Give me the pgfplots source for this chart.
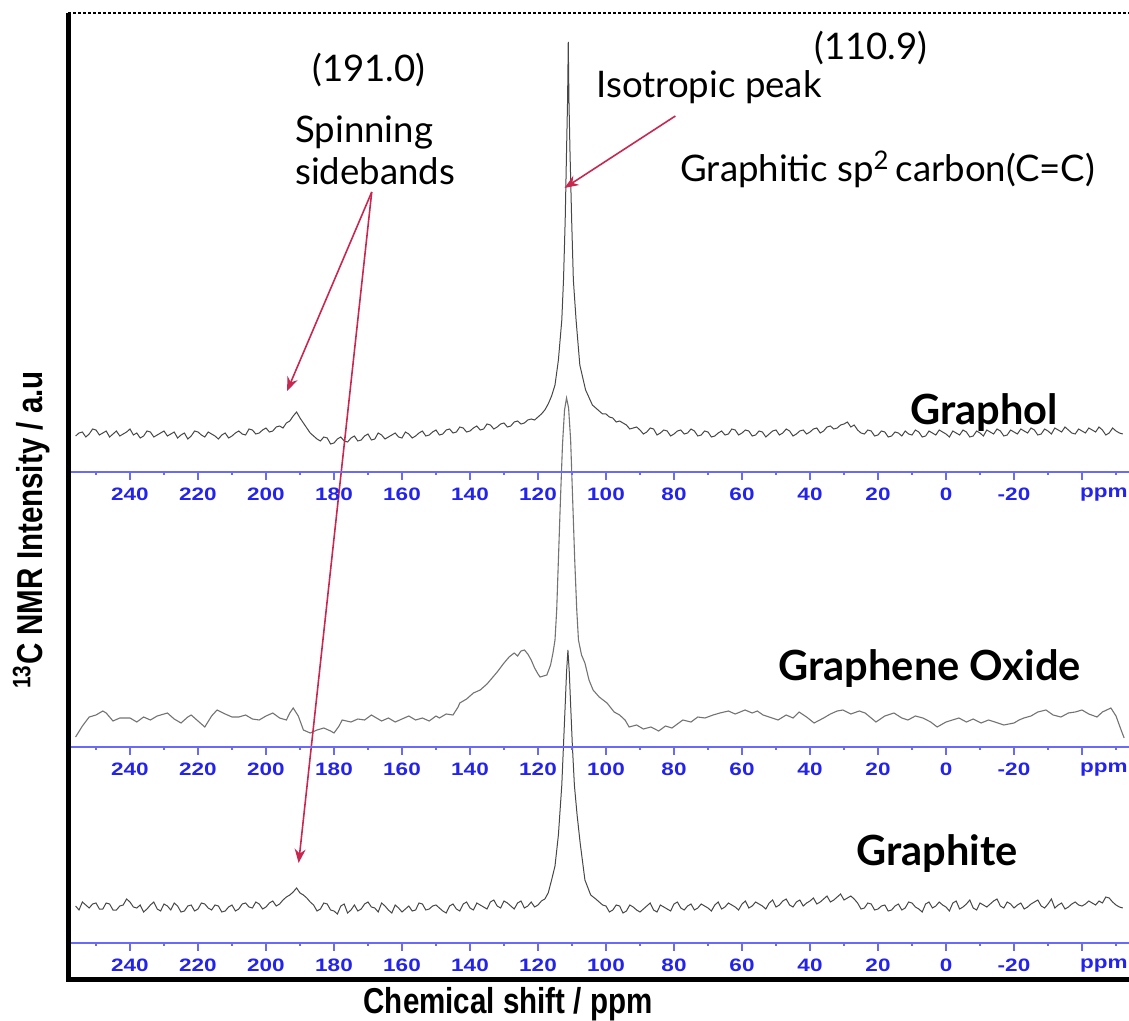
\documentclass[border=0pt]{standalone}
\usepackage{graphicx}
\usepackage{fontspec}
\usepackage{pgfplots}
\pgfplotsset{compat=1.18}
\usetikzlibrary{arrows.meta}
\setmainfont{Lato}
\newfontfamily\lato{Lato}
\newfontfamily\arial{Liberation Sans}
\definecolor{tickblue}{RGB}{35,35,235}
\definecolor{lineblue}{RGB}{105,105,250}
\definecolor{arrowred}{RGB}{200,40,80}
\newcommand{\tl}[1]{\scalebox{1.25}[1]{#1}}
\pgfplotsset{
  blueaxis/.style={
    anchor=south west, scale only axis, width=530.35pt, height=10pt,
    xmin=-53.82, xmax=258.15, x dir=reverse, ymin=0, ymax=1,
    axis x line=bottom, axis y line=none,
    axis line style={draw=lineblue, line width=1.1pt, -},
    xtick={240,220,200,180,160,140,120,100,80,60,40,20,0,-20,-40},
    xticklabels={\tl{240},\tl{220},\tl{200},\tl{180},\tl{160},\tl{140},\tl{120},\tl{100},\tl{80},\tl{60},\tl{40},\tl{20},\tl{0},\tl{-20},\rlap{\kern-1pt\tl{ppm}}},
    minor xtick={250,230,210,190,170,150,130,110,90,70,50,30,10,-10,-30,-50},
    tick align=outside, major tick length=4pt, minor tick length=1.5pt,
    every tick/.style={draw=lineblue, line width=1pt},
    xticklabel style={font=\arial\bfseries\fontsize{9}{10}\selectfont, text=tickblue, yshift=-0.5pt},
    clip=false,
  }
}
\begin{document}
\begin{tikzpicture}
\begin{axis}[
  at={(0,0)}, anchor=south west, scale only axis,
  width=530.35pt, height=483.25pt,
  xmin=-53.82, xmax=258.15, x dir=reverse,
  ymin=13, ymax=979.5, y dir=reverse,
  hide axis, clip=false,
]
% Graphol
\addplot[black!72, line width=0.5pt] coordinates {
(256,436) (255,433) (254,432) (253,437) (252,434) (251,429) (250,430) (249,435) (248,433) (247,431)
(246,437) (245,434) (244,431) (243,436) (242,434) (241,432) (240,429) (239,435) (238,433) (237,438)
(236,436) (235,431) (234,432) (233,437) (232,435) (231,433) (230,431) (229,436) (228,434) (227,432)
(226,438) (225,435) (224,433) (223,439) (222,436) (221,431) (220,432) (219,435) (218,437) (217,432)
(216,434) (215,436) (214,439) (213,435) (212,433) (211,438) (210,436) (209,433) (208,431) (207,434)
(206,435) (205,429) (204,430) (203,434) (202,433) (201,430) (200,428) (199,432) (198,431) (197,427)
(196,426) (195,428) (194,423) (193,421) (192,416) (191,412) (190,418) (189,423) (188,428) (187,433)
(186,436) (185,439) (184,441) (183,437) (182,438) (181,444) (180,443) (179,439) (178,437) (177,441)
(176,442) (175,438) (174,436) (173,441) (172,440) (171,436) (170,434) (169,440) (168,439) (167,433)
(166,435) (165,439) (164,437) (163,435) (162,433) (161,437) (160,438) (159,432) (158,434) (157,438)
(156,436) (155,433) (154,431) (153,436) (152,435) (151,432) (150,430) (149,435) (148,434) (147,430)
(146,429) (145,433) (144,432) (143,427) (142,428) (141,432) (140,431) (139,428) (138,426) (137,430)
(136,429) (135,424) (134,425) (133,429) (132,427) (131,424) (130,423) (129,427) (128,426) (127,422)
(126,421) (125,424) (124,423) (123,420) (122,419) (121,420) (120,417)
(119,414) (118,410) (117,404) (116,396) (115,385) (114,360) (113,320) (112.5,280) (112,220) (111.6,150)
(111.3,100) (111.1,42) (110.9,100) (110.6,150) (110.1,220) (109.6,280) (108.8,320) (107.7,365) (106,390) (104,405)
(102,411) (101,414) (100,414) (99,417) (98,418) (97,422) (96,421) (95,423) (94,425) (93,429)
(92,428) (91,427) (90,430) (89,434) (88,432) (87,428) (86,429) (85,435) (84,433) (83,430)
(82,431) (81,436) (80,434) (79,431) (78,430) (77,434) (76,433) (75,429) (74,431) (73,436)
(72,435) (71,431) (70,432) (69,437) (68,436) (67,433) (66,431) (65,435) (64,434) (63,429)
(62,430) (61,435) (60,433) (59,430) (58,431) (57,436) (56,435) (55,431) (54,432) (53,437)
(52,434) (51,431) (50,430) (49,435) (48,433) (47,429) (46,431) (45,436) (44,434) (43,431)
(42,430) (41,434) (40,432) (39,429) (38,428) (37,433) (36,431) (35,427) (34,426) (33,429)
(32,428) (31,425) (30,424) (29,422) (28,427) (27,425) (26,430) (25,433) (24,434) (23,430)
(22,431) (21,436) (20,435) (19,431) (18,432) (17,437) (16,436) (15,432) (14,433) (13,436)
(12,431) (11,434) (10,435) (9,430) (8,432) (7,437) (6,436) (5,431) (4,433) (3,435)
(2,430) (1,432) (0,434) (-1,437) (-2,431) (-3,433) (-4,435) (-5,430) (-6,432) (-7,437)
(-8,436) (-9,431) (-10,433) (-11,436) (-12,430) (-13,432) (-14,434) (-15,429) (-16,431) (-17,436)
(-18,435) (-19,430) (-20,432) (-21,434) (-22,429) (-23,431) (-24,433) (-25,428) (-26,430) (-27,435)
(-28,434) (-29,429) (-30,431) (-31,434) (-32,428) (-33,430) (-34,432) (-35,427) (-36,430) (-37,433)
(-38,434) (-39,429) (-40,431) (-41,433) (-42,428) (-43,430) (-44,432) (-45,427) (-46,430) (-47,435)
(-48,433) (-49,428) (-50,431) (-51,433) (-52,434)
};
% Graphene oxide
\addplot[black!55, line width=0.55pt] coordinates {
(256,737) (254,726) (252,717) (250,715) (248,711) (247,713) (245,721) (243,718) (240,718) (238,722)
(236,717) (234,720) (232,716) (230,714) (229,713) (227,719) (225,723) (223,717) (222,715) (220,721)
(218,727) (216,716) (214.4,710) (212,714) (210,717) (208,717) (206,715) (204,719) (202,720) (200,716)
(198,713) (196,718) (194,720) (193,713) (192,708) (190.5,716) (189,730) (187,733) (185,730) (183,728)
(181,731) (180,733) (178.5,726) (177.6,720) (175,722) (173,719) (171,720) (169,715) (168,717) (166,721)
(164,718) (162,722) (160,719) (158,716) (156,720) (154,718) (152,721) (150,716) (149,718) (147,714)
(145,715) (143.5,707) (143,703) (141,699) (139,693) (137,690) (135,684) (134,680) (132,672) (130,663)
(128.5,657) (127,653) (126,656) (125,651) (124,650) (123,654) (122,660) (121,668) (120,674) (119.4,677)
(118.4,676) (117.4,675) (116.3,665) (115.6,653) (115,640) (114.5,610) (114,560) (113.4,500) (112.8,445) (112.2,410)
(111.6,398) (111,408) (110.4,440) (109.8,500) (109.2,560) (108.6,610) (108.1,640) (107.2,655) (106.2,663) (105,680)
(103.8,690) (102,697) (99.7,703) (97.6,712) (96,715) (94.4,720) (93.2,727) (91,725) (89,729) (86.8,727)
(84.5,731) (82.5,726) (80.6,728) (79,724) (77.4,720) (75,722) (73,717) (70.9,718) (68.5,715) (66.5,713)
(64,711) (62,714) (59.1,710) (57,713) (55.5,711) (53.8,715) (52,717) (49.4,720) (47,715) (45,718)
(43.2,712) (41,717) (38.8,723) (36,718) (34,714) (32,711) (30.3,710) (28,714) (25.5,711) (23.8,713)
(22,718) (20.6,722) (18,716) (15.3,713) (13,718) (11.2,720) (9,716) (6.8,718) (4.5,722) (2.6,727)
(0,722) (-3.8,718) (-6,722) (-8,719) (-10.3,723) (-12.5,720) (-14.4,722) (-17,725) (-20,723) (-21.5,720)
(-22.9,718) (-25,716) (-27,712) (-29.4,710) (-31.5,715) (-33.8,717) (-36,713) (-38,712) (-40,710) (-42,714)
(-44.4,717) (-46,712) (-48.5,708) (-50,716) (-51.5,730) (-52.4,738)
};
% Graphite
\addplot[black!72, line width=0.5pt] coordinates {
(256,906) (255,910) (254,902) (253,905) (252,908) (251,904) (250,903) (249,909) (248,909) (247,903)
(246,904) (245,910) (244,910) (243,906) (242,905) (241,899) (240,902) (239,907) (238,908) (237,905)
(236,912) (235,909) (234,905) (233,902) (232,909) (231,911) (230,904) (229,906) (228,910) (227,903)
(226,906) (225,912) (224,911) (223,906) (222,905) (221,911) (220,909) (219,903) (218,904) (217,908)
(216,910) (215,905) (214,906) (213,912) (212,911) (211,907) (210,905) (209,911) (208,909) (207,904)
(206,903) (205,907) (204,908) (203,902) (202,904) (201,909) (200,907) (199,903) (198,901) (197,906)
(196,904) (195,900) (194,897) (193,895) (192,892) (191,888) (190,893) (189,895) (188,898) (187,902)
(186,905) (185,911) (184,909) (183,903) (182,904) (181,910) (180,911) (179,914) (178,906) (177,904)
(176,913) (175,910) (174,905) (173,911) (172,909) (171,904) (170,902) (169,907) (168,908) (167,912)
(166,903) (165,906) (164,910) (163,913) (162,905) (161,908) (160,912) (159,909) (158,906) (157,911)
(156,910) (155,903) (154,904) (153,910) (152,909) (151,906) (150,905) (149,908) (148,911) (147,913)
(146,906) (145,904) (144,909) (143,911) (142,904) (141,902) (140,908) (139,910) (138,903) (137,905)
(136,907) (135,909) (134,902) (133,900) (132,906) (131,908) (130,901) (129,903) (128,906) (127,909)
(126,903) (125,901) (124,908) (123,906) (122,902) (121,907) (120,905) (119,901) (118,899)
(117,893) (116,880) (115,866) (114,835) (113,785) (112.5,745) (112,705) (111.6,672) (111.2,650)
(110.8,672) (110.4,705) (109.9,745) (109.3,785) (108.5,815) (107.6,843) (106.2,880) (104.5,895) (103,899)
(102,902) (101,905) (100,906) (99,912) (98,910) (97,905) (96,906) (95,913) (94,911) (93,905)
(92,907) (91,910) (90,912) (89,909) (88,906) (87,903) (86,910) (85,912) (84,905) (83,907)
(82,909) (81,911) (80,904) (79,902) (78,908) (77,910) (76,906) (75,904) (74,910) (73,908)
(72,904) (71,906) (70,908) (69,911) (68,905) (67,902) (66,909) (65,907) (64,903) (63,905)
(62,907) (61,910) (60,904) (59,901) (58,908) (57,906) (56,902) (55,904) (54,906) (53,909)
(52,903) (51,900) (50,907) (49,905) (48,901) (47,899) (46,905) (45,907) (44,902) (43,900)
(42,906) (41,903) (40,901) (39,898) (38,904) (37,902) (36,899) (35,896) (34,902) (33,900)
(32,897) (31,894) (30,900) (29,898) (28,896) (27,899) (26,903) (25,909) (24,908) (23,903)
(22,904) (21,910) (20,909) (19,906) (18,905) (17,911) (16,910) (15,906) (14,904) (13,910)
(12,908) (11,902) (10,903) (9,907) (8,909) (7,912) (6,904) (5,902) (4,908) (3,906)
(2,902) (1,905) (0,907) (-1,911) (-2,903) (-3,901) (-4,909) (-5,907) (-6,904) (-7,900)
(-8,908) (-9,910) (-10,903) (-11,905) (-12,907) (-13,904) (-14,901) (-15,899) (-16,906) (-17,908)
(-18,902) (-19,904) (-20,908) (-21,905) (-22,903) (-23,909) (-24,907) (-25,904) (-26,902) (-27,900)
(-28,906) (-29,908) (-30,904) (-31,899) (-32,908) (-33,905) (-34,903) (-35,909) (-36,907) (-37,904)
(-38,902) (-39,905) (-40,906) (-41,904) (-42,901) (-43,903) (-44,905) (-45,901) (-46,903) (-47,897)
(-48,898) (-49,902) (-50,905) (-51,907) (-52,908)
};
% annotations
\node[anchor=base west, inner sep=0pt, font=\lato\fontsize{18.3}{21}\selectfont] at (axis cs:186.5,82) {(191.0)};
\node[anchor=base west, inner sep=0pt, font=\lato\fontsize{18.3}{21}\selectfont] at (axis cs:191.5,143) {Spinning};
\node[anchor=base west, inner sep=0pt, font=\lato\fontsize{18.3}{21}\selectfont] at (axis cs:191.5,185) {sidebands};
\node[anchor=base west, inner sep=0pt, font=\lato\fontsize{18.3}{21}\selectfont] at (axis cs:38.8,60) {(110.9)};
\node[anchor=base west, inner sep=0pt, font=\lato\fontsize{18.3}{21}\selectfont] at (axis cs:102.9,98) {Isotropic peak};
\node[anchor=base west, inner sep=0pt, font=\lato\fontsize{18.3}{21}\selectfont] at (axis cs:78.2,182) {Graphitic sp\textsuperscript{2}\,carbon(C=C)};
\node[anchor=base west, inner sep=0pt, font=\lato\bfseries\fontsize{20.8}{24}\selectfont] at (axis cs:10.6,425) {Graphol};
\node[anchor=base west, inner sep=0pt, font=\lato\bfseries\fontsize{20.8}{24}\selectfont] at (axis cs:49.4,680) {Graphene Oxide};
\node[anchor=base west, inner sep=0pt, font=\lato\bfseries\fontsize{20.8}{24}\selectfont] at (axis cs:26.5,865) {Graphite};
% arrows
\draw[arrowred, line width=0.8pt, -{Stealth[length=7pt,width=5.5pt]}] (axis cs:168.9,192) -- (axis cs:193.8,391);
\draw[arrowred, line width=0.8pt, -{Stealth[length=7pt,width=5.5pt]}] (axis cs:168.9,192) -- (axis cs:190.4,863);
\draw[arrowred, line width=0.8pt, -{Stealth[length=7pt,width=5.5pt]}] (axis cs:79.6,116) -- (axis cs:112.2,188);
\end{axis}
% blue ppm axes
\begin{axis}[blueaxis, at={(0,253.9pt)}]
\addplot[draw=none] coordinates {(0,0.5)};
\end{axis}
\begin{axis}[blueaxis, at={(0,116.4pt)}]
\addplot[draw=none] coordinates {(0,0.5)};
\end{axis}
\begin{axis}[blueaxis, at={(0,18.25pt)}]
\addplot[draw=none] coordinates {(0,0.5)};
\end{axis}
% frame
\draw[black, line width=2.6pt] (0,483.25pt) -- (0,0) -- (530.35pt,0);
\draw[black, line width=0.6pt, dash pattern=on 1.5pt off 1pt] (0,483.25pt) -- (530.35pt,483.25pt);
% axis titles
\node[rotate=90, anchor=base, inner sep=0pt, font=\arial\bfseries\fontsize{18}{20}\selectfont] at (-12.65pt,224.75pt) {\scalebox{0.82}[1]{\textsuperscript{13}C NMR Intensity / a.u}};
\node[anchor=base, inner sep=0pt, font=\arial\bfseries\fontsize{18}{20}\selectfont] at (219.85pt,-17.25pt) {\scalebox{0.82}[1]{Chemical shift / ppm}};
\pgfresetboundingbox
\useasboundingbox (-34.15pt,-20.75pt) rectangle (530.35pt,489.75pt);
\end{tikzpicture}
\end{document}
